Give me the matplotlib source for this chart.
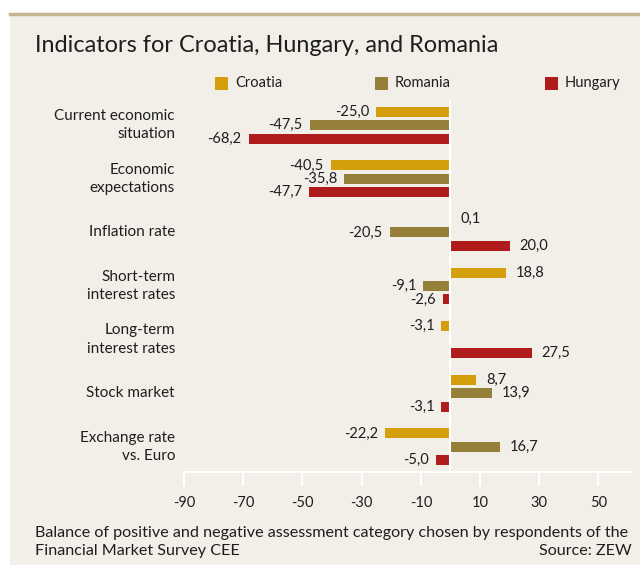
import numpy as np
import matplotlib.pyplot as plt
import matplotlib.transforms as mtransforms
from matplotlib.patches import Rectangle

plt.rcParams['font.family'] = ['Lato', 'DejaVu Sans']
plt.rcParams['axes.unicode_minus'] = False

categories = ['Current economic\nsituation', 'Economic\nexpectations', 'Inflation rate',
              'Short-term\ninterest rates', 'Long-term\ninterest rates', 'Stock market',
              'Exchange rate\nvs. Euro']
croatia = [-25.0, -40.5, 0.1, 18.8, -3.1, 8.7, -22.2]
romania = [-47.5, -35.8, -20.5, -9.1, np.nan, 13.9, 16.7]
hungary = [-68.2, -47.7, 20.0, -2.6, 27.5, -3.1, -5.0]
series_names = ['Croatia', 'Romania', 'Hungary']
xticks = [-90, -70, -50, -30, -10, 10, 30, 50]

colors = {'Croatia': '#d49f0a', 'Romania': '#948038', 'Hungary': '#b01c1c'}
bg = '#f2efe9'
txt = '#1e1e1e'

W, H = 640, 565
fig = plt.figure(figsize=(W / 100, H / 100), dpi=100)
fig.patch.set_facecolor('white')

# panel background and top rule
fig.add_artist(Rectangle((10 / W, 0), 1, 1 - 13 / H, transform=fig.transFigure,
                         facecolor=bg, edgecolor='none', zorder=-10))
fig.add_artist(plt.Line2D([10 / W, 1], [1 - 14 / H, 1 - 14 / H], transform=fig.transFigure,
                          color='#c2b692', lw=2.5))

fig.text(35 / W, 1 - 46 / H, 'Indicators for Croatia, Hungary, and Romania',
         fontsize=16.9, color=txt, va='center', ha='left')

# legend
leg_x = [215, 375, 545]
for name, lx in zip(series_names, leg_x):
    fig.add_artist(Rectangle((lx / W, 1 - 90 / H), 13 / W, 13 / H, transform=fig.transFigure,
                             facecolor=colors[name], edgecolor='none'))
    fig.text((lx + 20) / W, 1 - 83 / H, name, fontsize=10.5, color=txt, va='center', ha='left')

ax_top, ax_bot = 100, 472
ax = fig.add_axes([184 / W, 1 - ax_bot / H, (631 - 184) / W, (ax_bot - ax_top) / H])
ax.set_facecolor('none')

step = 0.25
bh = 0.19
pos = np.arange(len(categories))
for k, (name, vals) in enumerate(zip(series_names, [croatia, romania, hungary])):
    y = pos + (k - 1) * step
    for yi, v in zip(y, vals):
        if np.isnan(v):
            continue
        ax.barh(yi, v, height=bh, color=colors[name], edgecolor='none', zorder=2)
        lab = f'{v:.1f}'.replace('.', ',')
        if v >= 0:
            ax.annotate(lab, (v, yi), xytext=(7, 0), textcoords='offset points',
                        ha='left', va='center', fontsize=10.5, color=txt)
        else:
            ax.annotate(lab, (v, yi), xytext=(-5, 0), textcoords='offset points',
                        ha='right', va='center', fontsize=10.5, color=txt)

cat_trans = mtransforms.blended_transform_factory(fig.transFigure, ax.transData)
for yc, cat in zip(pos, categories):
    fig.text(175 / W, yc, cat, fontsize=11, color=txt, ha='right', va='center',
             linespacing=1.4, transform=cat_trans)

ax.axvline(0, color='white', lw=1.5, zorder=3)
ax.set_xlim(-90, 61)
ax.set_ylim(6.47, -0.47)
ax.set_yticks([])
ax.set_xticks(xticks)
ax.tick_params(axis='x', colors='white', length=10, width=1.5, labelcolor=txt,
               labelsize=10.5, pad=7)
for s in ['top', 'right', 'left']:
    ax.spines[s].set_visible(False)
ax.spines['bottom'].set_color('white')
ax.spines['bottom'].set_linewidth(1.5)

fig.text(35 / W, 1 - 533 / H,
         'Balance of positive and negative assessment category chosen by respondents of the',
         fontsize=11.6, color=txt, ha='left', va='center')
fig.text(35 / W, 1 - 551 / H, 'Financial Market Survey CEE',
         fontsize=11.6, color=txt, ha='left', va='center')
fig.text(632 / W, 1 - 551 / H, 'Source: ZEW',
         fontsize=11.6, color=txt, ha='right', va='center')

fig.savefig('out.png', dpi=100)
